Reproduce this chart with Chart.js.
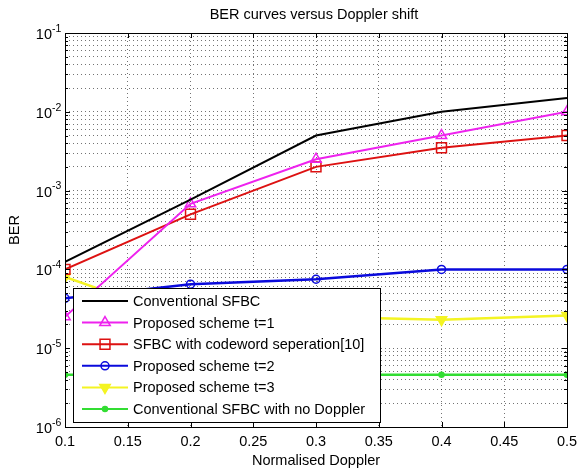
<!DOCTYPE html>
<html>
<head>
<meta charset="utf-8">
<script src="https://cdn.jsdelivr.net/npm/chart.js@4.4.1/dist/chart.umd.min.js"></script>
<style>
    html, body { margin: 0; padding: 0; background: #fff; }
    #wrap { width: 578px; height: 472px; position: relative; }
</style>
</head>
<body>
<div id="wrap"><canvas id="berChart" width="578" height="472"></canvas></div>
<script>
// Data
const doppler = [0.1, 0.2, 0.3, 0.4, 0.5];
const berConventional = [1.25e-4, 7.7e-4, 5.0e-3, 1.0e-2, 1.5e-2];
const berProposedT1 = [2.5e-5, 6.8e-4, 2.5e-3, 5.0e-3, 1.0e-2];
const berCodewordSep = [1.0e-4, 5.0e-4, 2.0e-3, 3.5e-3, 5.0e-3];
const berProposedT2 = [4.3e-5, 6.5e-5, 7.5e-5, 1.0e-4, 1.0e-4];
const berProposedT3 = [8.0e-5, 2.2e-5, 2.5e-5, 2.3e-5, 2.6e-5];
const berNoDoppler = [4.6e-6, 4.6e-6, 4.6e-6, 4.6e-6, 4.6e-6];

// Tick labels
const xTickValues = [0.1, 0.15, 0.2, 0.25, 0.3, 0.35, 0.4, 0.45, 0.5];
const xTickLabels = ['0.1', '0.15', '0.2', '0.25', '0.3', '0.35', '0.4', '0.45', '0.5'];
const yDecades = [-6, -5, -4, -3, -2, -1];

const FONT = '"Liberation Sans", Arial, sans-serif';

function series(label, values, color, style) {
    return Object.assign({
        label: label,
        data: values.map((v, i) => ({ x: doppler[i], y: v })),
        borderColor: color,
        backgroundColor: 'rgba(0,0,0,0)',
        pointBorderColor: color,
        borderWidth: 2,
        pointBorderWidth: 1.5,
        tension: 0,
        fill: false
    }, style);
}

// Build log ticks 1..9 x 10^n for every decade
function logTicks() {
    const ticks = [];
    yDecades.forEach((e, i) => {
        const last = i === yDecades.length - 1;
        const n = last ? 1 : 9;
        for (let s = 1; s <= n; s++) {
            ticks.push({ value: s * Math.pow(10, e), major: s === 1 });
        }
    });
    return ticks;
}

function drawMarker(ctx, style, x, y, r, color, filled) {
    ctx.save();
    ctx.beginPath();
    ctx.lineWidth = 1.5;
    ctx.strokeStyle = color;
    ctx.fillStyle = color;
    if (style === 'triangle') {
        ctx.moveTo(x, y - r);
        ctx.lineTo(x + r * 0.87, y + r * 0.5);
        ctx.lineTo(x - r * 0.87, y + r * 0.5);
        ctx.closePath();
    } else if (style === 'triangleDown') {
        ctx.moveTo(x, y + r);
        ctx.lineTo(x + r * 0.87, y - r * 0.5);
        ctx.lineTo(x - r * 0.87, y - r * 0.5);
        ctx.closePath();
    } else if (style === 'rect') {
        const h = r * Math.SQRT1_2;
        ctx.rect(x - h, y - h, 2 * h, 2 * h);
    } else {
        ctx.arc(x, y, r, 0, Math.PI * 2);
    }
    if (filled) ctx.fill();
    ctx.stroke();
    ctx.restore();
}

const legendMarkers = [
    null,
    { style: 'triangle', r: 6, filled: false },
    { style: 'rect', r: 7, filled: false },
    { style: 'circle', r: 4, filled: false },
    { style: 'triangleDown', r: 6, filled: true },
    { style: 'circle', r: 2.5, filled: true }
];

// Frame, ticks, labels, legend - drawn over the plot in MATLAB style
const matlabFrame = {
    id: 'matlabFrame',
    afterDatasetsDraw(chart) {
        const ctx = chart.ctx;
        const a = chart.chartArea;
        const xs = chart.scales.x;
        const ys = chart.scales.y;

        ctx.save();
        ctx.strokeStyle = '#000';
        ctx.lineWidth = 1;

        // inward tick marks
        ctx.beginPath();
        xTickValues.forEach(v => {
            const px = Math.round(xs.getPixelForValue(v)) + 0.5;
            ctx.moveTo(px, a.bottom); ctx.lineTo(px, a.bottom - 5);
            ctx.moveTo(px, a.top); ctx.lineTo(px, a.top + 5);
        });
        logTicks().forEach(t => {
            const py = Math.round(ys.getPixelForValue(t.value)) + 0.5;
            const len = t.major ? 5 : 3;
            ctx.moveTo(a.left, py); ctx.lineTo(a.left + len, py);
            ctx.moveTo(a.right, py); ctx.lineTo(a.right - len, py);
        });
        ctx.stroke();

        // axes box
        ctx.strokeRect(Math.round(a.left) + 0.5, Math.round(a.top) + 0.5,
            Math.round(a.right - a.left), Math.round(a.bottom - a.top));

        // x tick labels
        ctx.fillStyle = '#000';
        ctx.font = '14.5px ' + FONT;
        ctx.textAlign = 'center';
        ctx.textBaseline = 'middle';
        xTickValues.forEach((v, i) => {
            ctx.fillText(xTickLabels[i], xs.getPixelForValue(v), a.bottom + 15);
        });

        // y tick labels 10^n
        yDecades.forEach(e => {
            const py = ys.getPixelForValue(Math.pow(10, e));
            ctx.font = '14.5px ' + FONT;
            ctx.textAlign = 'right';
            ctx.fillText('10', a.left - 13, py + 2);
            ctx.font = '10.5px ' + FONT;
            ctx.textAlign = 'left';
            ctx.fillText(String(e), a.left - 13, py - 4);
        });

        // title and axis labels
        ctx.font = '14.5px ' + FONT;
        ctx.textAlign = 'center';
        const cx = (a.left + a.right) / 2;
        ctx.fillText('BER curves versus Doppler shift', cx - 2, 15);
        ctx.fillText('Normalised Doppler', cx, 461);
        ctx.save();
        ctx.translate(15, (a.top + a.bottom) / 2);
        ctx.rotate(-Math.PI / 2);
        ctx.fillText('BER', 0, 0);
        ctx.restore();

        // legend box
        const lx = 73, ly = 288, lw = 307, lh = 134;
        ctx.fillStyle = '#fff';
        ctx.fillRect(lx, ly, lw, lh);
        ctx.strokeStyle = '#000';
        ctx.strokeRect(lx + 0.5, ly + 0.5, lw, lh);

        chart.data.datasets.forEach((ds, i) => {
            const ry = 301 + i * 21.6;
            ctx.strokeStyle = ds.borderColor;
            ctx.lineWidth = 2;
            ctx.beginPath();
            ctx.moveTo(82, ry);
            ctx.lineTo(128, ry);
            ctx.stroke();
            const m = legendMarkers[i];
            if (m) drawMarker(ctx, m.style, 105, ry, m.r, ds.borderColor, m.filled);
            ctx.fillStyle = '#000';
            ctx.font = '14.5px ' + FONT;
            ctx.textAlign = 'left';
            ctx.textBaseline = 'middle';
            ctx.fillText(ds.label, 133, ry + 1);
        });
        ctx.restore();
    }
};

const ctx = document.getElementById('berChart').getContext('2d');
const berChart = new Chart(ctx, {
    type: 'line',
    data: {
        datasets: [
            series('Conventional SFBC', berConventional, '#000000', { pointRadius: 0 }),
            series('Proposed scheme t=1', berProposedT1, '#ee22ee', { pointStyle: 'triangle', pointRadius: 6 }),
            series('SFBC with codeword seperation[10]', berCodewordSep, '#dd1111', { pointStyle: 'rect', pointRadius: 7 }),
            series('Proposed scheme t=2', berProposedT2, '#0a0adc', { pointStyle: 'circle', pointRadius: 4, borderWidth: 2.5 }),
            series('Proposed scheme t=3', berProposedT3, '#f4f422', { pointStyle: 'triangle', pointRotation: 180, pointRadius: 6, pointBackgroundColor: '#f4f422', borderWidth: 2.5 }),
            series('Conventional SFBC with no Doppler', berNoDoppler, '#33dd33', { pointStyle: 'circle', pointRadius: 2.5, pointBackgroundColor: '#33dd33', borderWidth: 2.5 })
        ]
    },
    options: {
        responsive: false,
        animation: false,
        layout: { padding: { left: 65, top: 33, right: 11, bottom: 45 } },
        plugins: {
            legend: { display: false },
            title: { display: false },
            tooltip: { enabled: false }
        },
        scales: {
            x: {
                type: 'linear',
                min: 0.1,
                max: 0.5,
                afterBuildTicks: (scale) => { scale.ticks = xTickValues.map(v => ({ value: v })); },
                ticks: { display: false },
                grid: { color: 'rgba(0,0,0,0.55)', lineWidth: 1, drawTicks: false },
                border: { display: false, dash: [1, 3] }
            },
            y: {
                type: 'logarithmic',
                min: 1e-6,
                max: 1e-1,
                afterBuildTicks: (scale) => { scale.ticks = logTicks(); },
                ticks: { display: false },
                grid: { color: 'rgba(0,0,0,0.55)', lineWidth: 1, drawTicks: false },
                border: { display: false, dash: [1, 3] }
            }
        }
    },
    plugins: [matlabFrame]
});
</script>
</body>
</html>
